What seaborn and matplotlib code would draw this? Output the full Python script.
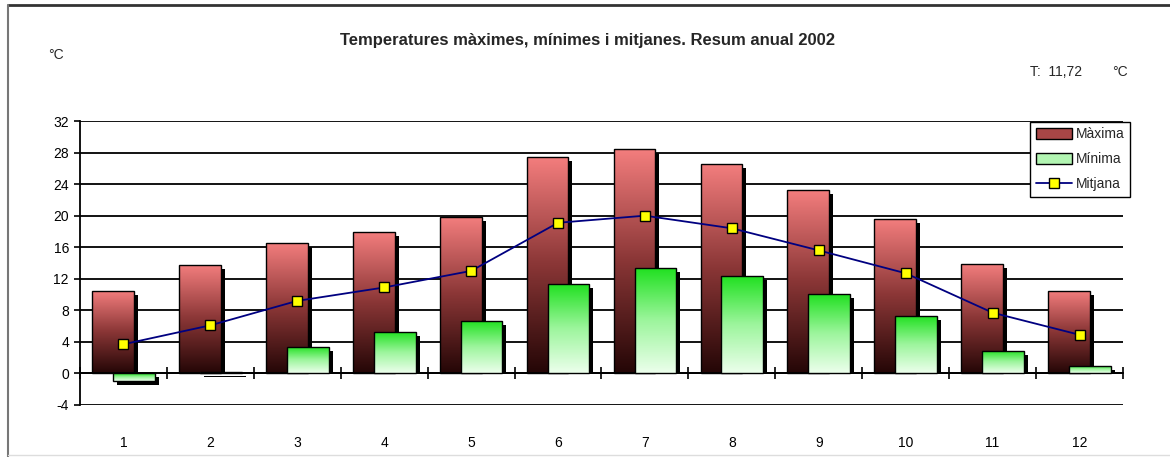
import numpy as np
import pandas as pd
import seaborn as sns
import matplotlib.pyplot as plt
import matplotlib.transforms as mtransforms
from matplotlib.patches import Rectangle, Patch
from matplotlib.lines import Line2D
from matplotlib.colors import LinearSegmentedColormap

# data
months = list(range(1, 13))
t_max = [10.5, 13.7, 16.5, 17.9, 19.8, 27.4, 28.5, 26.6, 23.2, 19.6, 13.9, 10.5]
t_min = [-1.0, 0.2, 3.3, 5.2, 6.7, 11.4, 13.4, 12.4, 10.1, 7.3, 2.8, 0.9]
t_mean = [3.7, 6.1, 9.2, 10.9, 13.0, 19.1, 20.0, 18.4, 15.6, 12.7, 7.7, 4.9]
series = ["Màxima", "Mínima", "Mitjana"]
y_ticks = list(range(-4, 33, 4))
title = "Temperatures màximes, mínimes i mitjanes. Resum anual 2002"
annual_mean = "11,72"

sns.set_theme(style="white")
plt.rcParams["font.family"] = ["Liberation Sans Narrow", "Liberation Sans", "DejaVu Sans"]
plt.rcParams["axes.unicode_minus"] = False

df = pd.DataFrame({"mes": months, "max": t_max, "min": t_min, "mitjana": t_mean})
df["x_max"] = df["mes"] - 0.12
df["x_min"] = df["mes"] + 0.12

fig = plt.figure(figsize=(11.7, 4.57), dpi=100)
ax = fig.add_axes([0.0684, 0.1138, 0.8914, 0.6214])

sns.barplot(data=df, x="x_max", y="max", native_scale=True, width=0.48,
            errorbar=None, color="#e07070", ax=ax)
n_max = len(ax.patches)
sns.barplot(data=df, x="x_min", y="min", native_scale=True, width=0.48,
            errorbar=None, color="#70e070", ax=ax)

cmap_max = LinearSegmentedColormap.from_list("mx", ["#240606", "#8a3636", "#f47e7e"])
cmap_min = LinearSegmentedColormap.from_list("mn", ["#ecffec", "#9cf59c", "#1ee01e"])
shadow_px = 4
shadow_tr = ax.transData + mtransforms.ScaledTranslation(
    shadow_px / 100, -shadow_px / 100, fig.dpi_scale_trans)
# shadow offset expressed in data units, so positive bars' shadows stop at 0
ax_h_px = 0.6214 * 457
shadow_dy = shadow_px / ax_h_px * (32 - (-4))


def gradient_bar(patch, cmap, z):
    x0, y0 = patch.get_x(), patch.get_y()
    w, h = patch.get_width(), patch.get_height()
    lo, hi = min(y0, y0 + h), max(y0, y0 + h)
    s_lo = lo + shadow_dy if lo >= 0 and hi - lo > shadow_dy else lo
    ax.add_patch(Rectangle((x0, s_lo), w, hi - s_lo, transform=shadow_tr,
                           facecolor="black", edgecolor="none", zorder=z))
    grad = np.linspace(1, 0, 256).reshape(-1, 1)
    im = ax.imshow(grad, cmap=cmap, vmin=0, vmax=1, aspect="auto", origin="upper",
                   extent=(x0, x0 + w, lo, hi), zorder=z + 0.1)
    im.set_clip_path(patch)
    patch.set_facecolor("none")
    patch.set_edgecolor("black")
    patch.set_linewidth(1.0)
    patch.set_zorder(z + 0.2)


for i, p in enumerate(list(ax.patches)):
    if i < n_max:
        gradient_bar(p, cmap_max, 2.0)
    else:
        gradient_bar(p, cmap_min, 2.5)

sns.lineplot(data=df, x="mes", y="mitjana", color="#000080", lw=1.3, marker="s",
             markersize=7, markerfacecolor="#ffff00", markeredgecolor="black",
             markeredgewidth=1, zorder=5, ax=ax, legend=False)

ax.set_xlim(0.5, 12.5)
ax.set_ylim(-4, 32)
ax.set_yticks(y_ticks)
ax.yaxis.grid(True, color="black", lw=1.3)
ax.set_axisbelow(True)
for s in ["top", "right"]:
    ax.spines[s].set_visible(False)
ax.spines["left"].set_color("black")
ax.spines["left"].set_linewidth(1.3)
ax.spines["bottom"].set_position(("data", 0))
ax.spines["bottom"].set_color("black")
ax.spines["bottom"].set_linewidth(1.3)

ax.set_xticks(np.arange(0.5, 13, 1))
ax.set_xticks(months, minor=True)
ax.set_xticklabels(months, minor=True)
ax.tick_params(axis="x", which="major", bottom=True, direction="inout", length=8,
               width=1.2, color="black", labelbottom=False)
ax.tick_params(axis="x", which="minor", bottom=True, length=0, pad=45,
               labelsize=10, labelcolor="black")
ax.tick_params(axis="y", left=True, direction="out", length=4, width=1.2,
               color="black", pad=4, labelsize=10, labelcolor="black")
ax.set_xlabel("")
ax.set_ylabel("")

handles = [Patch(facecolor="#a84646", edgecolor="black", label=series[0]),
           Patch(facecolor="#b2f5b2", edgecolor="black", label=series[1]),
           Line2D([0], [0], color="#000080", lw=1.3, marker="s", markersize=7,
                  markerfacecolor="#ffff00", markeredgecolor="black", label=series[2])]
leg = ax.legend(handles=handles, loc="upper right", bbox_to_anchor=(0.966, 0.734),
                bbox_transform=fig.transFigure, borderaxespad=0, fancybox=False,
                edgecolor="black", framealpha=1, fontsize=10, handlelength=2.6,
                handleheight=0.8, labelspacing=0.8, borderpad=0.4, handletextpad=0.3)
leg.get_frame().set_linewidth(1.0)
leg.set_zorder(10)

fig.text(0.502, 0.912, title, ha="center", va="center", fontsize=12, fontweight="bold")
fig.text(0.048, 0.88, "°C", ha="center", va="center", fontsize=10)
fig.text(0.88, 0.843, f"T:  {annual_mean}", ha="left", va="center", fontsize=10)
fig.text(0.957, 0.843, "°C", ha="center", va="center", fontsize=10)

fig.add_artist(Line2D([0.007, 1], [0.989, 0.989], transform=fig.transFigure,
                      color="#333333", lw=2))
fig.add_artist(Line2D([0.007, 0.007], [0.0, 0.989], transform=fig.transFigure,
                      color="#777777", lw=1.5))
fig.add_artist(Line2D([0.007, 1], [0.004, 0.004], transform=fig.transFigure,
                      color="#dddddd", lw=1))

fig.savefig("out.png", dpi=100)
